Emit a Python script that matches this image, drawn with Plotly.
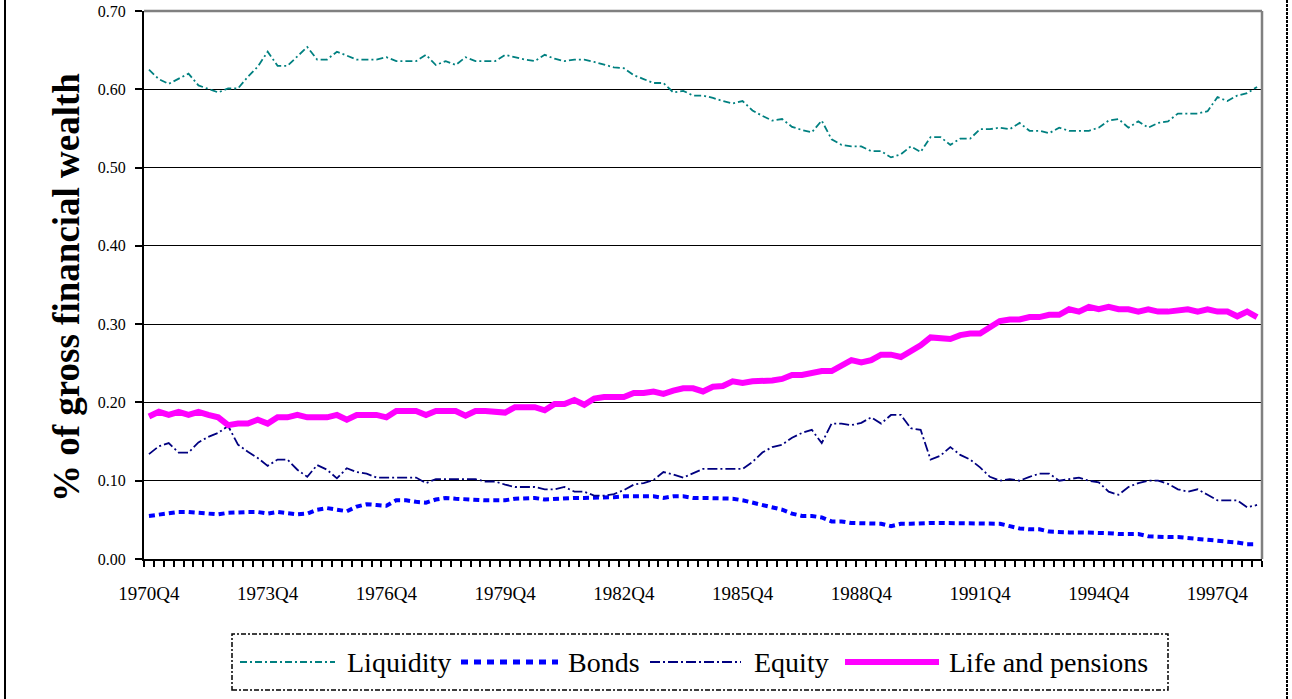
import plotly.graph_objects as go

# ---------------- data ----------------
quarters = []
_y, _q = 1970, 4
for _ in range(113):
    quarters.append(f"{_y}Q{_q}")
    _q += 1
    if _q > 4:
        _q = 1
        _y += 1

liquidity = [
    0.625, 0.613, 0.607, 0.613, 0.620, 0.605, 0.600, 0.596, 0.601, 0.601,
    0.616, 0.629, 0.648, 0.630, 0.630, 0.642, 0.654, 0.638, 0.638, 0.648,
    0.643, 0.638, 0.638, 0.638, 0.641, 0.636, 0.636, 0.636, 0.644, 0.631,
    0.636, 0.631, 0.641, 0.636, 0.636, 0.636, 0.644, 0.641, 0.638, 0.636,
    0.644, 0.639, 0.636, 0.638, 0.638, 0.635, 0.631, 0.628, 0.627, 0.618,
    0.613, 0.608, 0.608, 0.596, 0.598, 0.592, 0.592, 0.589, 0.585, 0.582,
    0.585, 0.573, 0.566, 0.560, 0.562, 0.552, 0.548, 0.545, 0.560, 0.536,
    0.529, 0.527, 0.527, 0.521, 0.521, 0.513, 0.517, 0.527, 0.520, 0.539,
    0.539, 0.529, 0.537, 0.537, 0.549, 0.549, 0.551, 0.549, 0.557, 0.547,
    0.547, 0.544, 0.551, 0.547, 0.547, 0.547, 0.551, 0.560, 0.562, 0.551,
    0.559, 0.551, 0.557, 0.559, 0.569, 0.569, 0.569, 0.572, 0.590, 0.585,
    0.592, 0.595, 0.603,
]

bonds = [
    0.055, 0.057, 0.059, 0.060, 0.060, 0.059, 0.057, 0.057, 0.059, 0.060,
    0.060, 0.060, 0.058, 0.060, 0.058, 0.057, 0.058, 0.063, 0.065, 0.063,
    0.061, 0.067, 0.070, 0.069, 0.068, 0.075, 0.075, 0.073, 0.072, 0.076,
    0.078, 0.077, 0.076, 0.076, 0.075, 0.075, 0.075, 0.077, 0.078, 0.078,
    0.076, 0.077, 0.078, 0.078, 0.078, 0.078, 0.078, 0.079, 0.080, 0.080,
    0.080, 0.080, 0.078, 0.080, 0.080, 0.078, 0.078, 0.078, 0.078, 0.077,
    0.075, 0.072, 0.068, 0.066, 0.063, 0.058, 0.055, 0.055, 0.053, 0.048,
    0.048, 0.046, 0.046, 0.045, 0.045, 0.042, 0.045, 0.045, 0.046, 0.046,
    0.046, 0.046, 0.046, 0.045, 0.045, 0.045, 0.045, 0.042, 0.039, 0.038,
    0.038, 0.035, 0.034, 0.034, 0.034, 0.034, 0.034, 0.033, 0.032, 0.032,
    0.032, 0.029, 0.028, 0.028, 0.028, 0.027, 0.026, 0.024, 0.024, 0.022,
    0.021, 0.019, 0.019,
]

equity = [
    0.134, 0.144, 0.148, 0.136, 0.136, 0.149, 0.156, 0.161, 0.170, 0.146,
    0.137, 0.129, 0.119, 0.127, 0.127, 0.114, 0.105, 0.120, 0.114, 0.103,
    0.116, 0.111, 0.109, 0.104, 0.104, 0.104, 0.104, 0.104, 0.097, 0.102,
    0.102, 0.102, 0.102, 0.102, 0.099, 0.099, 0.095, 0.092, 0.092, 0.092,
    0.089, 0.089, 0.092, 0.086, 0.086, 0.081, 0.081, 0.083, 0.088, 0.095,
    0.097, 0.101, 0.111, 0.108, 0.104, 0.109, 0.115, 0.115, 0.115, 0.115,
    0.115, 0.124, 0.136, 0.143, 0.146, 0.155, 0.161, 0.165, 0.148, 0.173,
    0.173, 0.171, 0.174, 0.181, 0.173, 0.184, 0.184, 0.167, 0.165, 0.127,
    0.132, 0.143, 0.133, 0.127, 0.117, 0.105, 0.100, 0.102, 0.100, 0.105,
    0.109, 0.109, 0.100, 0.102, 0.104, 0.100, 0.098, 0.086, 0.082, 0.092,
    0.097, 0.100, 0.100, 0.096, 0.089, 0.086, 0.089, 0.082, 0.075, 0.075,
    0.075, 0.066, 0.069,
]

life_pensions = [
    0.182, 0.188, 0.184, 0.188, 0.184, 0.188, 0.184, 0.181, 0.171, 0.173,
    0.173, 0.178, 0.173, 0.181, 0.181, 0.184, 0.181, 0.181, 0.181, 0.184,
    0.178, 0.184, 0.184, 0.184, 0.181, 0.189, 0.189, 0.189, 0.184, 0.189,
    0.189, 0.189, 0.183, 0.189, 0.189, 0.188, 0.187, 0.194, 0.194, 0.194,
    0.190, 0.198, 0.198, 0.203, 0.197, 0.205, 0.207, 0.207, 0.207, 0.212,
    0.212, 0.214, 0.211, 0.215, 0.218, 0.218, 0.214, 0.220, 0.221, 0.227,
    0.225, 0.227, 0.227, 0.228, 0.230, 0.235, 0.235, 0.238, 0.240, 0.240,
    0.248, 0.254, 0.251, 0.254, 0.261, 0.261, 0.258, 0.265, 0.273, 0.283,
    0.282, 0.281, 0.286, 0.288, 0.288, 0.297, 0.304, 0.306, 0.306, 0.309,
    0.309, 0.312, 0.312, 0.319, 0.316, 0.322, 0.319, 0.322, 0.319, 0.319,
    0.316, 0.319, 0.316, 0.316, 0.317, 0.319, 0.316, 0.319, 0.316, 0.316,
    0.310, 0.316, 0.309,
]

series_names = ["Liquidity", "Bonds", "Equity", "Life and pensions"]
y_ticks = [0.0, 0.1, 0.2, 0.3, 0.4, 0.5, 0.6, 0.7]

# ---------------- styling ----------------
FONT = "Liberation Serif, Times New Roman, serif"
styles = {
    "Liquidity": dict(color="#008080", width=1.8, dash="7px,3px,2px,3px"),
    "Bonds": dict(color="#0000FF", width=4, dash="6px,4px"),
    "Equity": dict(color="#000080", width=1.8, dash="10px,3px,2px,3px"),
    "Life and pensions": dict(color="#FF00FF", width=6, dash="solid"),
}

x = list(range(len(quarters)))
data_map = {
    "Liquidity": liquidity,
    "Bonds": bonds,
    "Equity": equity,
    "Life and pensions": life_pensions,
}

fig = go.Figure()
for name in series_names:
    fig.add_trace(go.Scatter(
        x=x, y=data_map[name], mode="lines", name=name,
        line=dict(**styles[name]), showlegend=False,
        hovertemplate="%{text}: %{y:.3f}<extra>" + name + "</extra>",
        text=quarters,
    ))

# plot-area pixel geometry
L, R, T, B = 144, 1262, 11, 559
W, H = 1292, 699


def px(xp):
    return (xp - L) / (R - L)


def py(yp):
    return (B - yp) / (B - T)


shapes = []
# grey top / right plot border
shapes.append(dict(type="line", xref="paper", yref="paper", x0=0, x1=1, y0=1, y1=1,
                   line=dict(color="#808080", width=2.5)))
shapes.append(dict(type="line", xref="paper", yref="paper", x0=1, x1=1, y0=0, y1=1,
                   line=dict(color="#808080", width=2.5)))
# outer chart frame (left/right)
shapes.append(dict(type="line", xref="paper", yref="paper", x0=px(5), x1=px(5),
                   y0=py(H + 20), y1=py(-20), line=dict(color="black", width=2)))
shapes.append(dict(type="line", xref="paper", yref="paper", x0=px(1287), x1=px(1287),
                   y0=py(H + 20), y1=py(-20), line=dict(color="black", width=2, dash="3px,1px")))
# legend box
shapes.append(dict(type="rect", xref="paper", yref="paper", x0=px(232), x1=px(1168),
                   y0=py(690), y1=py(634), line=dict(color="black", width=1.5, dash="5px,2px,2px,2px"),
                   fillcolor="rgba(0,0,0,0)"))

legend_layout = [
    ("Liquidity", 240, 335, 345),
    ("Bonds", 461, 558, 566),
    ("Equity", 650, 741, 752),
    ("Life and pensions", 845, 939, 947),
]
LEG_Y = 662
annotations = []
for name, s0, s1, tx in legend_layout:
    st = styles[name]
    ldash = st["dash"]
    if name == "Bonds":
        ldash = "7px,6px"
    shapes.append(dict(type="line", xref="paper", yref="paper", x0=px(s0), x1=px(s1),
                       y0=py(LEG_Y), y1=py(LEG_Y),
                       line=dict(color=st["color"], width=st["width"] + (1 if name == "Bonds" else 0),
                                 dash=ldash)))
    annotations.append(dict(text=name, xref="paper", yref="paper", x=px(tx), y=py(LEG_Y),
                            xanchor="left", yanchor="middle", showarrow=False,
                            font=dict(family=FONT, size=28, color="black")))

annotations.append(dict(text="<b>% of gross financial wealth</b>", xref="paper", yref="paper",
                        x=px(66), y=py(288), xanchor="center", yanchor="middle", textangle=-90,
                        showarrow=False, font=dict(family=FONT, size=37, color="black")))

fig.update_layout(
    width=W, height=H, autosize=False,
    margin=dict(l=L, r=W - R, t=T, b=H - B, pad=0),
    paper_bgcolor="white", plot_bgcolor="white",
    showlegend=False,
    shapes=shapes, annotations=annotations,
    font=dict(family=FONT, color="black"),
    xaxis=dict(
        range=[-0.5, len(quarters) - 0.5],
        tickmode="array", tickvals=x[::12], ticktext=quarters[::12],
        ticks="", showline=True, linecolor="black", linewidth=2,
        showgrid=False, zeroline=False, automargin=False,
        tickfont=dict(family=FONT, size=19, color="black"),
        ticklabelstandoff=16,
        minor=dict(tickmode="linear", tick0=-0.5, dtick=1, ticks="outside",
                   ticklen=6, tickwidth=2, tickcolor="black", showgrid=False),
    ),
    yaxis=dict(
        range=[0, 0.7], tickmode="array", tickvals=y_ticks, tickformat=".2f",
        ticks="outside", ticklen=7, tickwidth=2, tickcolor="black",
        showline=True, linecolor="black", linewidth=2,
        showgrid=True, gridcolor="black", gridwidth=1.3, zeroline=False,
        automargin=False,
        tickfont=dict(family=FONT, size=16, color="black"),
        ticklabelstandoff=6,
    ),
)

fig.write_html("out.html", config={"displayModeBar": False},
               post_script="document.body.style.margin='0';")
